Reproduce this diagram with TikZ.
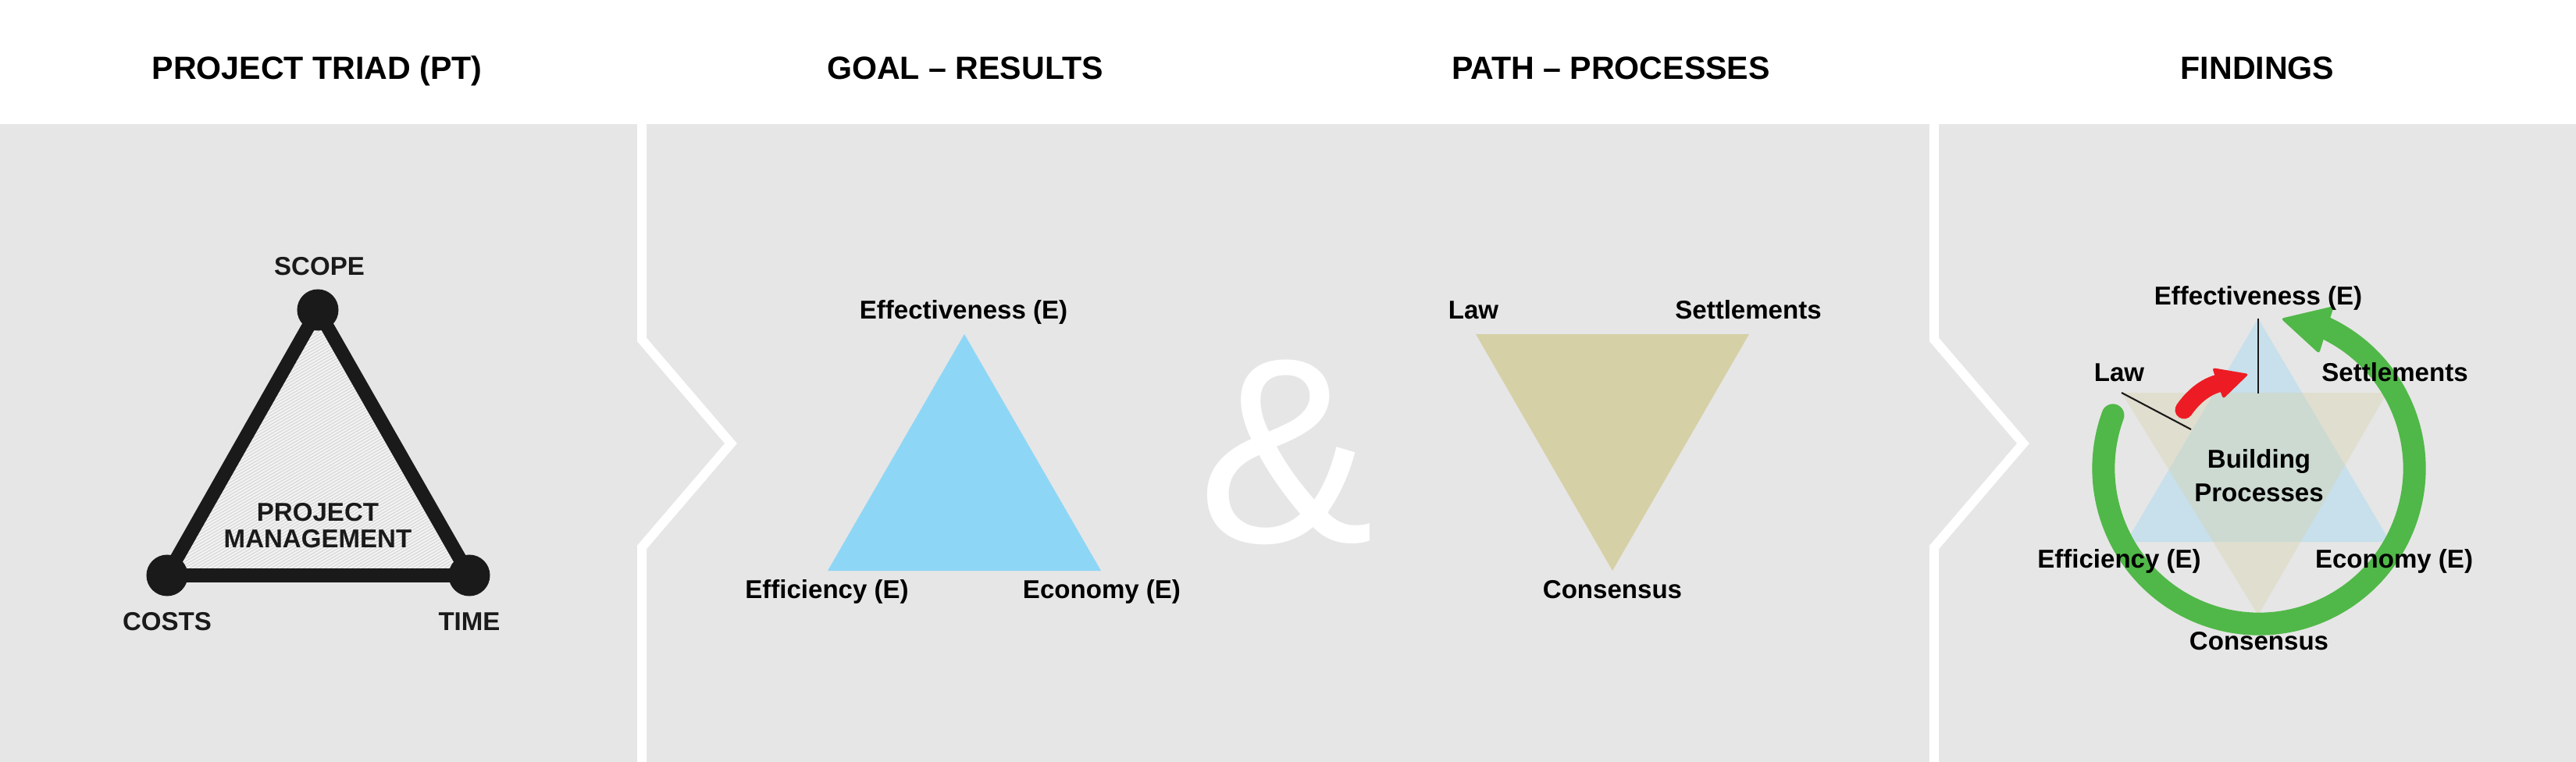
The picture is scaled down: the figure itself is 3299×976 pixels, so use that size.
\documentclass[tikz,border=0pt]{standalone}
\usepackage{fontspec}
\setmainfont{Liberation Sans}
\usetikzlibrary{calc}
\definecolor{bggray}{RGB}{230,230,230}
\definecolor{pmfill}{RGB}{244,244,244}
\definecolor{pmtex}{RGB}{216,216,216}
\definecolor{pmdark}{RGB}{26,26,26}
\definecolor{skyblue}{RGB}{142,214,246}
\definecolor{khaki}{RGB}{214,208,166}
\definecolor{ringgreen}{RGB}{80,184,72}
\definecolor{arrowred}{RGB}{237,28,36}
\begin{document}
\begin{tikzpicture}[x=0.01cm,y=-0.01cm,
  title/.style={font=\fontsize{11.7}{14}\selectfont\bfseries, anchor=base, inner sep=0pt},
  lbl/.style={font=\fontsize{9.4}{11.95}\selectfont\bfseries, anchor=base, inner sep=0pt, align=center},
  lblpm/.style={lbl, text=pmdark, font=\fontsize{9.4}{9.4}\selectfont\bfseries},
  divider/.style={draw=white, line width=0.12cm, miter limit=20},
  pmedge/.style={draw=pmdark, line width=0.175cm, line join=round},
  dotnode/.style={circle, fill=pmdark, minimum size=0.53cm, inner sep=0pt},
  softtri/.style={fill opacity=0.35},
  leader/.style={draw=pmdark, line width=0.6pt}]
\useasboundingbox (0,0) rectangle (3299,976);
\fill[white] (0,0) rectangle (3299,976);
\fill[bggray] (0,159) rectangle (3299,976);
% dividers
\draw[divider] (822,150) -- (822,435) -- (936,568) -- (822,701) -- (822,990);
\draw[divider] (2477,150) -- (2477,435) -- (2591,568) -- (2477,701) -- (2477,990);
% titles
\node[title] (t1) at (406,102) {PROJECT TRIAD (PT)};
\node[title] (t2) at (1236,102) {GOAL – RESULTS};
\node[title] (t3) at (2063,102) {PATH – PROCESSES};
\node[title] (t4) at (2891,102) {FINDINGS};
% panel 1
\coordinate (scope) at (407,397);
\coordinate (costs) at (214,737);
\coordinate (time) at (601,737);
\fill[pmfill] (scope) -- (costs) -- (time) -- cycle;
\begin{scope}
  \clip (scope) -- (costs) -- (time) -- cycle;
  \foreach \c in {520,524,...,1084} {
    \draw[pmtex, line width=0.35pt] (200,{\c-115.4}) -- (620,{\c-357.7});
  }
\end{scope}
\draw[pmedge] (scope) -- (costs) -- (time) -- cycle;
\node[dotnode] (scopedot) at (scope) {};
\node[dotnode] (costsdot) at (costs) {};
\node[dotnode] (timedot) at (time) {};
\node[lblpm] (scopeL) at (409,353) {SCOPE};
\node[lblpm] (costsL) at (214,807) {COSTS};
\node[lblpm] (timeL) at (601,807) {TIME};
\node[lblpm] (pmL) at (407,701) {PROJECT\\MANAGEMENT};
% panel 2
\coordinate (ga) at (1235,428);
\coordinate (gb) at (1060,731);
\coordinate (gc) at (1410,731);
\fill[skyblue] (ga) -- (gb) -- (gc) -- cycle;
\node[lbl] (g1) at (1234,408) {Effectiveness (E)};
\node[lbl] (g2) at (1059,766) {Efficiency (E)};
\node[lbl] (g3) at (1411,766) {Economy (E)};
\node[font=\fontsize{96}{96}\selectfont, text=white, inner sep=0pt] (amp) at (1647,579) {\&};
% panel 3
\coordinate (pa) at (1890,428);
\coordinate (pb) at (2240,428);
\coordinate (pc) at (2065,731);
\fill[khaki] (pa) -- (pb) -- (pc) -- cycle;
\node[lbl] (p1) at (1887,408) {Law};
\node[lbl] (p2) at (2239,408) {Settlements};
\node[lbl] (p3) at (2065,766) {Consensus};
% panel 4
\coordinate (fa) at (2892,408);
\coordinate (fb) at (2723,694);
\coordinate (fc) at (3061,694);
\coordinate (fd) at (2717,503);
\coordinate (fe) at (3057,503);
\coordinate (ff) at (2892,788);
\fill[skyblue, softtri] (fa) -- (fb) -- (fc) -- cycle;
\fill[khaki, softtri] (fd) -- (fe) -- (ff) -- cycle;
\coordinate (vbot) at (2892,504);
\coordinate (lawend) at (2806,550);
\draw[leader] (fa) -- (vbot);
\draw[leader] (fd) -- (lawend);
% green cycle arrow
\coordinate (ringc) at (2893,600);
\draw[ringgreen, line width=0.29cm, line cap=round] (ringc) ++(160:1.99cm) arc[start angle=160, end angle=426, radius=1.99cm];
\coordinate (gtip) at (2921,408);
\coordinate (gk1) at (2989,392);
\coordinate (gk2) at (2970,453);
\fill[ringgreen, rounded corners=1pt] (gtip) -- (gk1) -- (gk2) -- cycle;
% red arrow
\coordinate (rstart) at (2797,525);
\coordinate (rmid) at (2841,491);
\draw[arrowred, line width=0.23cm, line cap=round] (rstart) .. controls (2808,509) and (2823,496) .. (rmid);
\coordinate (rk1) at (2833,471);
\coordinate (rtip) at (2880,479);
\coordinate (rk2) at (2847,511);
\fill[arrowred, rounded corners=1pt] (rk1) -- (rtip) -- (rk2) -- cycle;
% labels panel 4
\node[lbl] (f1) at (2892,390) {Effectiveness (E)};
\node[lbl] (f2) at (2714,488) {Law};
\node[lbl] (f3) at (3067,488) {Settlements};
\node[lbl] (f4) at (2893,642) {Building\\Processes};
\node[lbl] (f5) at (2714,727) {Efficiency (E)};
\node[lbl] (f6) at (3066,727) {Economy (E)};
\node[lbl] (f7) at (2893,832) {Consensus};
\end{tikzpicture}
\end{document}
